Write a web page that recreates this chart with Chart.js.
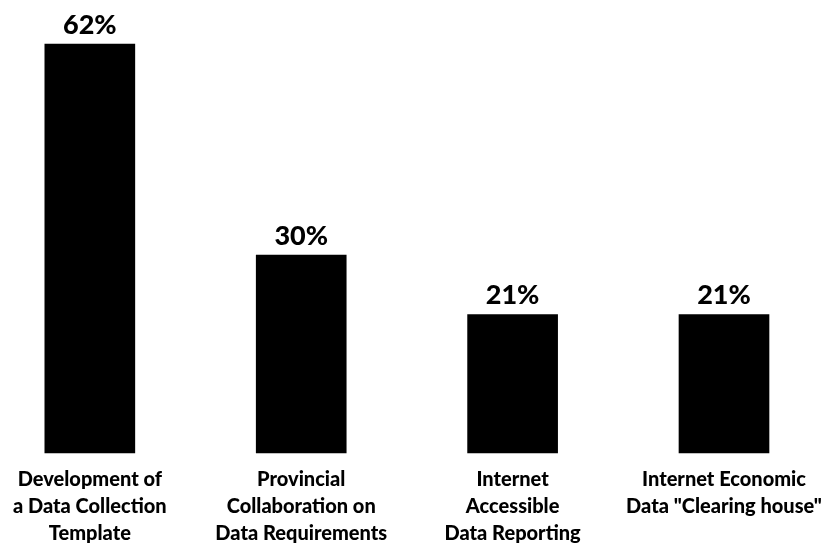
<!DOCTYPE html>
<html>
<head>
<meta charset="utf-8">
<script src="https://cdn.jsdelivr.net/npm/chart.js@4"></script>
<style>
  html, body { margin: 0; padding: 0; background: #fff; }
  #wrap { width: 837px; height: 550px; }
</style>
</head>
<body>
<div id="wrap"><canvas id="myChart" width="837" height="550"></canvas></div>
<script>
// categorias (lineas de cada etiqueta)
const categorias = [
  ['Development of', 'a Data Collection', 'Template'],
  ['Provincial', 'Collaboration on', 'Data Requirements'],
  ['Internet', 'Accessible', 'Data Reporting'],
  ['Internet Economic', 'Data "Clearing house"']
]
const valores = [62, 30, 21, 21]
const sufijo = '%'

const fuente = 'Lato, "DejaVu Sans", sans-serif'

// plugin que escribe el valor encima de cada barra
const etiquetasValor = {
  id: 'etiquetasValor',
  afterDatasetsDraw(chart) {
    const ctx = chart.ctx
    const meta = chart.getDatasetMeta(0)
    ctx.save()
    ctx.font = '900 27px ' + fuente
    ctx.fillStyle = '#000'
    ctx.textAlign = 'center'
    ctx.textBaseline = 'alphabetic'
    meta.data.forEach((bar, i) => {
      ctx.fillText(valores[i] + sufijo, bar.x, bar.y - 10)
    })
    ctx.restore()
  }
}

const config = {
  type: 'bar',
  data: {
    labels: categorias,
    datasets: [{
      data: valores,
      backgroundColor: '#000',
      borderWidth: 0,
      barThickness: 90,
      clip: false
    }]
  },
  options: {
    responsive: false,
    animation: false,
    layout: { padding: { left: 85, right: 113, top: 44, bottom: 0 } },
    plugins: { legend: { display: false }, tooltip: { enabled: false } },
    scales: {
      x: {
        offset: false,
        grid: { display: false, drawTicks: false },
        border: { display: false },
        afterFit(scale) { scale.height = 97 }, // alto fijo del eje de categorias
        ticks: {
          color: '#000',
          font: { family: fuente, weight: '900', size: 20, lineHeight: 1.35 },
          padding: 13,
          maxRotation: 0,
          autoSkip: false
        }
      },
      y: {
        display: false,
        min: 0,
        max: 62
      }
    }
  },
  plugins: [etiquetasValor]
}

new Chart(document.getElementById('myChart'), config)
</script>
</body>
</html>
